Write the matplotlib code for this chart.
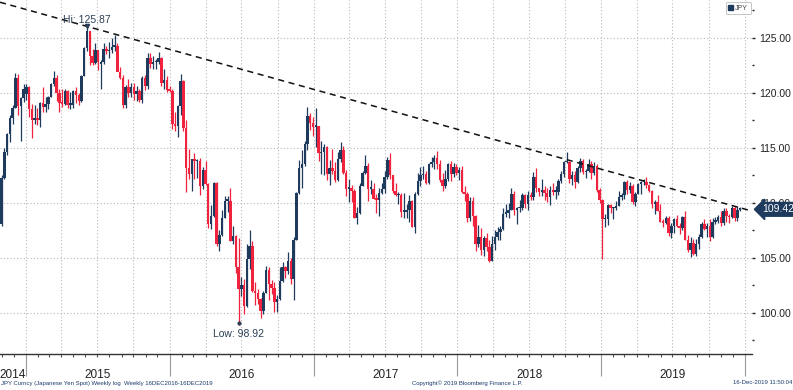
import numpy as np
import pandas as pd
import matplotlib
matplotlib.use("Agg")
import matplotlib.pyplot as plt
import matplotlib.dates as mdates
import matplotlib.ticker as mticker
from matplotlib.patches import Patch
from matplotlib.transforms import blended_transform_factory

plt.rcParams['font.family'] = ['Liberation Sans', 'DejaVu Sans']

# ---------------- data: USDJPY weekly candles (week ending Friday) ----------------
start_week = '2014-10-24'
n_weeks = 270

opens = [
    # 2014
    106.4, 108.1, 112.3, 114.6, 116.3, 117.7, 118.6, 121.4, 118.8, 119.5,
    # 2015
    119.9, 120.5, 118.5, 117.5, 117.7, 117.5, 119.1, 118.7, 119.0, 119.6,
    120.8, 121.4, 120.0, 119.1, 119.0, 120.2, 118.9, 118.9, 120.2, 119.8,
    119.3, 121.5, 124.1, 125.6, 123.4, 122.7, 123.9, 122.6, 122.8, 124.0,
    123.8, 123.9, 124.2, 124.3, 121.9, 121.4, 118.9, 120.5, 120.0, 120.5,
    119.9, 120.2, 119.4, 121.4, 120.6, 123.2, 122.6, 122.8, 122.8, 123.2,
    120.9, 121.2,
    # 2016
    120.3, 120.2, 117.2, 117.0, 118.8, 121.1, 116.8, 113.2, 112.6, 114.0,
    113.8, 113.8, 111.5, 113.0, 111.7, 108.1, 108.8, 111.8, 106.3, 107.1,
    108.6, 110.2, 110.2, 106.5, 107.0, 104.2, 102.2, 102.5, 100.6, 104.9,
    106.1, 102.0, 101.8, 101.3, 100.2, 101.8, 103.9, 102.6, 102.3, 101.0,
    101.3, 102.9, 104.2, 103.8, 104.7, 103.1, 106.6, 110.9, 113.2, 113.5,
    115.4, 117.9, 117.3,
    # 2017
    116.9, 117.0, 114.5, 114.6, 115.1, 112.6, 113.2, 112.9, 112.1, 114.0,
    114.8, 112.7, 111.3, 111.4, 111.1, 108.6, 109.1, 111.5, 112.7, 113.4,
    111.3, 111.3, 110.4, 110.3, 110.9, 111.3, 112.4, 113.9, 112.5, 111.1,
    110.7, 110.7, 109.2, 109.2, 109.4, 110.2, 107.8, 110.8, 112.0, 112.5,
    112.6, 111.8, 113.5, 113.7, 114.1, 113.5, 112.1, 111.5, 112.2, 113.5,
    112.6, 113.3,
    # 2018
    112.7, 113.0, 111.0, 110.8, 108.6, 110.2, 108.8, 106.3, 106.9, 105.7,
    106.8, 106.0, 104.7, 106.3, 106.9, 107.4, 107.6, 109.0, 109.1, 109.4,
    110.8, 109.4, 109.5, 109.5, 110.7, 109.9, 110.7, 110.5, 112.4, 111.4,
    111.0, 111.2, 110.9, 110.5, 111.2, 111.0, 111.0, 112.0, 112.6, 113.7,
    113.7, 112.2, 112.5, 111.9, 113.2, 113.8, 112.8, 112.9, 113.5, 112.7,
    113.4, 111.2,
    # 2019
    110.3, 108.5, 108.5, 109.8, 109.5, 109.5, 109.7, 110.5, 110.7, 111.9,
    111.2, 111.5, 110.1, 110.8, 111.7, 111.9, 111.9, 111.6, 111.1, 109.9,
    110.1, 109.3, 108.3, 108.2, 108.6, 107.3, 107.9, 108.5, 107.9, 107.7,
    108.7, 106.6, 105.7, 106.4, 105.4, 106.3, 106.9, 108.1, 107.6, 107.9,
    106.9, 108.3, 108.4, 108.7, 108.2, 109.3, 108.8, 108.7, 109.5, 108.6,
    109.4,
]

highs = [
    # 2014
    107.6, 112.5, 115.0, 116.4, 118.0, 118.9, 121.8, 121.7, 119.6, 120.8,
    # 2015
    120.8, 120.6, 119.0, 118.9, 118.6, 119.2, 120.5, 119.6, 119.7, 120.9,
    122.0, 121.6, 120.4, 120.4, 120.4, 120.3, 120.1, 120.3, 120.5, 120.0,
    121.6, 124.2, 125.9, 125.6, 124.0, 124.5, 123.9, 123.0, 124.5, 124.3,
    124.6, 125.0, 125.3, 124.5, 122.4, 121.6, 120.7, 121.3, 120.9, 120.9,
    120.6, 120.4, 121.5, 121.6, 123.6, 123.6, 123.4, 123.1, 123.7, 123.3,
    122.2, 121.5,
    # 2016
    120.6, 120.4, 118.3, 118.9, 121.7, 121.2, 117.5, 114.9, 114.0, 114.5,
    114.0, 114.1, 113.3, 113.8, 111.8, 109.8, 111.9, 111.9, 107.5, 109.4,
    110.6, 110.6, 111.4, 107.9, 107.1, 106.8, 103.3, 103.1, 106.3, 107.5,
    106.5, 102.8, 102.2, 101.4, 102.0, 104.3, 104.2, 103.0, 102.8, 101.6,
    104.2, 104.6, 104.3, 105.5, 105.0, 106.9, 111.0, 113.9, 114.8, 115.6,
    118.7, 118.2, 117.8,
    # 2017
    118.6, 117.0, 115.6, 115.4, 115.2, 113.9, 114.9, 113.7, 114.6, 115.5,
    115.2, 113.0, 112.2, 111.6, 111.3, 109.6, 111.8, 112.9, 114.4, 113.6,
    112.1, 111.8, 110.8, 111.4, 111.8, 112.9, 114.2, 114.5, 112.5, 111.8,
    111.0, 110.9, 110.9, 109.9, 110.7, 110.3, 111.0, 112.7, 113.3, 113.4,
    112.9, 113.6, 114.2, 114.4, 114.7, 113.9, 112.7, 113.0, 113.6, 113.8,
    113.6, 113.5,
    # 2018
    113.3, 113.4, 111.5, 111.0, 110.5, 110.5, 108.9, 108.0, 107.7, 107.0,
    107.3, 106.6, 107.0, 107.5, 107.8, 107.9, 109.5, 109.9, 110.0, 111.4,
    111.1, 109.6, 110.3, 110.9, 110.8, 111.1, 111.0, 112.8, 113.2, 111.4,
    112.2, 111.5, 111.4, 111.5, 111.8, 111.5, 112.2, 112.9, 113.8, 114.6,
    113.8, 112.9, 112.9, 113.4, 114.1, 114.0, 113.1, 114.0, 113.8, 113.7,
    113.5, 111.4,
    # 2019
    110.4, 109.0, 109.9, 109.9, 109.6, 110.2, 111.1, 110.9, 112.0, 112.1,
    111.9, 111.7, 111.0, 111.8, 112.0, 112.2, 112.4, 111.7, 111.2, 110.3,
    110.7, 109.9, 108.5, 108.8, 108.8, 108.2, 108.6, 108.9, 108.2, 108.8,
    109.3, 107.1, 106.9, 106.7, 106.7, 107.2, 108.3, 108.5, 108.2, 108.5,
    108.6, 108.7, 108.9, 109.3, 109.5, 109.5, 109.0, 109.7, 109.7, 109.7,
    109.6,
]

lows = [
    # 2014
    105.9, 107.9, 112.2, 114.4, 115.5, 117.2, 118.6, 118.0, 115.6, 119.2,
    # 2015
    119.4, 117.8, 115.9, 117.2, 117.1, 116.9, 118.3, 118.3, 118.5, 119.6,
    120.6, 119.3, 118.3, 118.7, 118.9, 118.6, 118.5, 118.6, 119.1, 118.9,
    119.2, 121.5, 123.8, 122.5, 122.5, 122.6, 122.1, 120.4, 122.6, 123.5,
    123.2, 123.6, 123.8, 122.0, 121.3, 118.6, 118.6, 119.6, 119.6, 119.4,
    119.3, 119.2, 119.1, 120.3, 120.4, 122.3, 122.2, 122.2, 122.6, 120.6,
    120.4, 120.1,
    # 2016
    120.1, 116.7, 116.5, 116.0, 118.0, 116.5, 111.0, 112.2, 111.1, 112.2,
    112.3, 110.7, 111.3, 111.6, 107.7, 107.6, 108.7, 106.1, 105.6, 107.0,
    108.6, 109.2, 106.5, 106.3, 103.6, 98.9, 101.5, 99.9, 100.5, 104.0,
    101.9, 100.7, 100.8, 99.5, 99.9, 101.8, 101.2, 101.7, 100.1, 100.1,
    101.2, 102.8, 103.2, 103.5, 102.6, 101.2, 106.6, 110.8, 111.4, 113.4,
    114.8, 116.6, 116.1,
    # 2017
    115.1, 113.8, 112.6, 112.5, 112.1, 111.6, 112.6, 111.9, 112.0, 113.7,
    112.6, 110.6, 110.1, 110.1, 108.6, 108.1, 109.0, 111.5, 112.6, 110.2,
    110.8, 110.4, 109.1, 108.8, 110.8, 110.9, 112.2, 112.2, 110.9, 110.6,
    109.9, 108.7, 108.6, 108.6, 108.3, 107.8, 107.3, 110.7, 111.5, 112.2,
    111.7, 111.7, 113.3, 113.1, 113.1, 111.9, 111.1, 111.4, 112.0, 112.0,
    112.4, 112.5,
    # 2018
    112.1, 110.9, 110.2, 108.3, 108.4, 107.9, 105.6, 106.0, 105.3, 105.2,
    105.6, 104.6, 104.7, 105.7, 106.6, 106.6, 107.5, 108.7, 108.6, 109.4,
    108.9, 108.1, 109.2, 109.4, 109.5, 109.4, 110.3, 110.3, 111.0, 110.6,
    110.6, 110.3, 110.1, 109.8, 110.7, 110.4, 110.7, 111.8, 112.4, 113.6,
    111.8, 111.6, 111.4, 111.8, 112.8, 112.6, 112.3, 112.8, 112.2, 112.5,
    111.0, 110.0,
    # 2019
    104.9, 107.8, 108.0, 109.1, 108.5, 109.4, 109.7, 110.3, 110.4, 110.8,
    110.9, 109.9, 109.7, 110.8, 110.8, 111.6, 111.4, 111.0, 109.5, 109.0,
    109.3, 108.3, 107.8, 108.1, 107.0, 106.8, 107.3, 107.8, 107.2, 107.5,
    106.6, 105.5, 105.1, 105.3, 105.2, 105.8, 106.8, 107.5, 106.9, 106.5,
    106.8, 108.1, 108.2, 107.9, 108.0, 108.3, 108.2, 108.6, 108.4, 108.4,
    109.3,
]

closes = [
    # 2014
    107.4, 112.3, 114.6, 116.3, 117.7, 118.6, 121.4, 118.8, 119.5, 120.4,
    # 2015
    120.5, 118.5, 117.5, 117.7, 117.5, 119.1, 118.7, 119.0, 119.6, 120.8,
    121.4, 120.0, 119.1, 119.0, 120.2, 118.9, 118.9, 120.2, 119.8, 119.3,
    121.5, 124.1, 125.6, 123.4, 122.7, 123.9, 122.8, 122.8, 124.0, 123.8,
    123.9, 124.2, 124.3, 121.9, 121.4, 118.9, 120.5, 120.0, 120.5, 119.9,
    120.2, 119.4, 121.4, 120.6, 123.2, 122.6, 122.8, 122.8, 123.2, 120.9,
    121.2, 120.3,
    # 2016
    120.2, 117.2, 117.0, 118.8, 121.1, 116.8, 113.2, 112.6, 114.0, 113.8,
    113.8, 111.5, 113.0, 111.7, 108.1, 108.8, 111.8, 106.3, 107.1, 108.6,
    110.2, 110.2, 106.5, 107.0, 104.2, 102.2, 102.5, 100.6, 104.9, 106.1,
    102.0, 101.8, 101.3, 100.2, 101.8, 103.9, 102.6, 102.3, 101.0, 101.3,
    102.9, 104.2, 103.8, 104.7, 103.1, 106.6, 110.9, 113.2, 113.5, 115.4,
    117.9, 117.3, 116.9,
    # 2017
    117.0, 114.5, 114.6, 115.1, 112.6, 113.2, 112.9, 112.1, 114.0, 114.8,
    112.7, 111.3, 111.4, 111.1, 108.6, 109.1, 111.5, 112.7, 113.4, 111.3,
    111.3, 110.4, 110.3, 110.9, 111.3, 112.4, 113.9, 112.5, 111.1, 110.7,
    110.7, 109.2, 109.2, 109.4, 110.2, 107.8, 110.8, 112.0, 112.5, 112.6,
    111.8, 113.5, 113.7, 114.1, 113.5, 112.1, 111.5, 112.2, 113.5, 112.6,
    113.3, 112.7,
    # 2018
    113.0, 111.0, 110.8, 108.6, 110.2, 108.8, 106.3, 106.9, 105.7, 106.8,
    106.0, 104.7, 106.3, 106.9, 107.4, 107.6, 109.0, 109.1, 109.4, 110.8,
    109.4, 109.5, 109.5, 110.7, 109.9, 110.7, 110.5, 112.4, 111.4, 111.0,
    111.2, 110.9, 110.5, 111.2, 111.0, 111.0, 112.0, 112.6, 113.7, 113.7,
    112.2, 112.5, 111.9, 113.2, 113.8, 112.8, 112.9, 113.5, 112.7, 113.4,
    111.2, 110.3,
    # 2019
    108.5, 108.5, 109.8, 109.5, 109.5, 109.7, 110.5, 110.7, 111.9, 111.2,
    111.5, 110.1, 110.8, 111.7, 111.9, 111.9, 111.6, 111.1, 109.9, 110.1,
    109.3, 108.3, 108.2, 108.6, 107.3, 107.9, 108.5, 107.9, 107.7, 108.7,
    106.6, 105.7, 106.4, 105.4, 106.3, 106.9, 108.1, 107.6, 107.9, 106.9,
    108.3, 108.4, 108.7, 108.2, 109.3, 108.8, 108.7, 109.5, 108.6, 109.4,
    109.42,
]

# annotations / trend line anchors
hi_date, hi_value = '2015-06-05', 125.87
low_date, low_value = '2016-06-24', 98.92
last_value = 109.42
trend_dates = ['2015-06-05', '2019-12-16']
trend_values = [126.05, 109.6]

years = ['2014', '2015', '2016', '2017', '2018', '2019']
y_ticks = [100, 105, 110, 115, 120, 125]

footer_left = "JPY Curncy (Japanese Yen Spot) Weekly log  Weekly 16DEC2016-16DEC2019"
footer_mid = "Copyright\u00a9 2019 Bloomberg Finance L.P."
footer_right = "16-Dec-2019 11:50:04"

# ---------------- style ----------------
DARK = '#1e3a5c'
RED = '#f0233f'
GRID = '#b8b8b8'
TEXT = '#2b3f55'

W, H = 793, 390
fig = plt.figure(figsize=(W / 100, H / 100), dpi=100)
ax = fig.add_axes([0, 36 / H, 752 / W, 354 / H])
ax.set_facecolor('white')

dates = pd.date_range(start_week, periods=n_weeks, freq='W-FRI')
x = mdates.date2num(dates)
o = np.array(opens); h = np.array(highs); l = np.array(lows); c = np.array(closes)
up = c >= o
cols = np.where(up, DARK, RED)

ax.vlines(x, l, h, colors=cols, lw=0.9, zorder=3)
ax.bar(x, np.maximum(np.abs(c - o), 0.15), bottom=np.minimum(o, c), width=6.2,
       color=cols, lw=0, zorder=4)

# limits
x_left = mdates.date2num(pd.Timestamp('2014-10-27'))
ax.set_xlim(x_left, x_left + 1910)
ax.set_ylim(96.27, 128.45)

# grid
for yv in y_ticks:
    ax.axhline(yv, color=GRID, lw=0.8, ls=(0, (1, 2)), zorder=1)
for q in pd.date_range('2015-01-01', '2020-01-01', freq='QS'):
    ax.axvline(mdates.date2num(q), color=GRID, lw=0.8, ls=(0, (1, 2)), zorder=1)

# trend line
tx = mdates.date2num(pd.to_datetime(trend_dates))
slope = (trend_values[1] - trend_values[0]) / (tx[1] - tx[0])
xl = np.array(ax.get_xlim())
ax.plot(xl, trend_values[0] + slope * (xl - tx[0]), color='#111111', lw=1.1,
        ls=(0, (4, 3)), zorder=5)

# Hi / Low annotations
hx = mdates.date2num(pd.Timestamp(hi_date))
lx = mdates.date2num(pd.Timestamp(low_date))
ax.plot([hx], [hi_value + 0.2], marker='v', ms=3, color=TEXT, zorder=6)
ax.text(hx, hi_value + 0.3, f'Hi: {hi_value:.2f}', ha='center', va='bottom',
        fontsize=7.5, color=TEXT, zorder=6)
ax.plot([lx], [low_value + 0.15], marker='o', ms=2, color=TEXT, zorder=6)
ax.text(lx, low_value - 0.35, f'Low: {low_value:.2f}', ha='center', va='top',
        fontsize=7.5, color=TEXT, zorder=6)

# axes / ticks
for s in ['left', 'top', 'right']:
    ax.spines[s].set_visible(False)
ax.spines['bottom'].set_color('#333333')
ax.spines['bottom'].set_linewidth(1.0)

ax.yaxis.tick_right()
ax.set_yticks(y_ticks)
ax.yaxis.set_major_formatter(mticker.FormatStrFormatter('%.2f'))
ax.yaxis.set_minor_locator(mticker.MultipleLocator(2.5))
ax.tick_params(axis='y', which='major', length=2.5, width=1, colors='#222222',
               labelsize=7.5, pad=3)
ax.tick_params(axis='y', which='minor', length=1.5, width=1, colors='#222222')

ax.xaxis.set_major_locator(mdates.YearLocator())
ax.xaxis.set_minor_locator(mdates.MonthLocator())
ax.xaxis.set_major_formatter(mticker.NullFormatter())
ax.tick_params(axis='x', which='major', length=16, width=0.8, colors='#999999')
ax.tick_params(axis='x', which='minor', length=2.5, width=0.8, colors='#555555')

# year labels centred in each year span
tr = blended_transform_factory(ax.transData, ax.transAxes)
x0, x1 = ax.get_xlim()
for yr in years:
    a = max(mdates.date2num(pd.Timestamp(f'{yr}-01-01')), x0)
    b = min(mdates.date2num(pd.Timestamp(f'{int(yr) + 1}-01-01')), x1)
    ax.text((a + b) / 2, -0.058, yr, transform=tr, ha='center', va='center',
            fontsize=8.5, color='#222222')

# last price label
ax.text(1.013, last_value, f'{last_value:.2f}',
        transform=blended_transform_factory(ax.transAxes, ax.transData),
        ha='left', va='center', fontsize=7.5, color='white', zorder=10,
        bbox=dict(boxstyle='larrow,pad=0.18', fc=DARK, ec=DARK), clip_on=False)

# legend
leg = ax.legend(handles=[Patch(color=DARK)], labels=['JPY'], loc='upper right',
                bbox_to_anchor=(1.0, 0.998), fontsize=5, frameon=True, fancybox=True,
                handlelength=0.7, handleheight=0.9, handletextpad=0.3,
                borderpad=0.35, borderaxespad=0.2)
leg.get_frame().set_edgecolor('#aaaaaa')
leg.get_frame().set_linewidth(0.6)
for t in leg.get_texts():
    t.set_color('#444444')

# footer
fig.text(1 / W, 1 - 383 / H, footer_left, fontsize=4.3, color='#1a3a6a',
         ha='left', va='center')
fig.text(412 / W, 1 - 383 / H, footer_mid, fontsize=4.3, color='#1a3a6a',
         ha='left', va='center')
fig.text(792 / W, 1 - 383 / H, footer_right, fontsize=4.3, color='#1a3a6a',
         ha='right', va='center')

fig.savefig('out.png', dpi=100, facecolor='white')
